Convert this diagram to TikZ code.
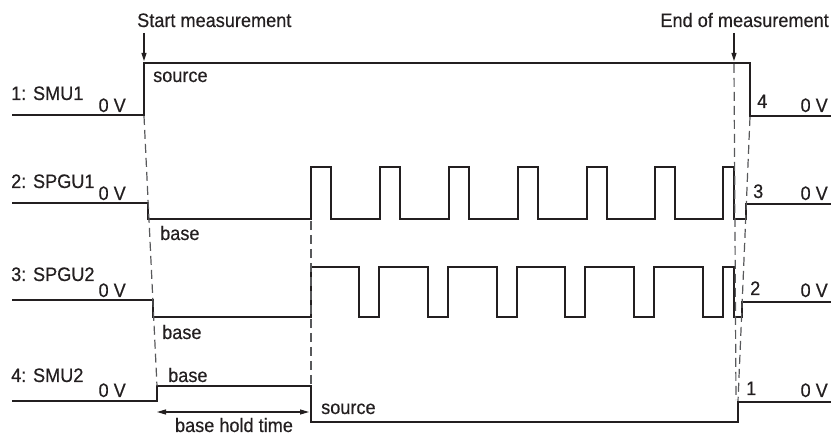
\documentclass[tikz,border=0pt]{standalone}
\usepackage{fontspec}
\setmainfont{Liberation Sans}[FakeBold=0.35,FakeStretch=0.93]
\usetikzlibrary{arrows.meta}
\definecolor{ink}{HTML}{231F20}
\definecolor{dashgray}{HTML}{58595B}
\begin{document}
\begin{tikzpicture}[x=1pt,y=-1pt,
  wave/.style={draw=ink,line width=1.8pt,line join=miter},
  guide/.style={draw=dashgray,line width=1.2pt,dash pattern=on 9pt off 5pt},
  lbl/.style={inner sep=0pt,text=ink,font=\fontsize{19.5}{21}\selectfont},
  marker/.style={draw=ink,line width=1.1pt,-{Triangle[length=8pt,width=5pt]}},
  span/.style={draw=ink,line width=1.1pt,{Triangle[length=9pt,width=5pt]}-{Triangle[length=9pt,width=5pt]}}]
\useasboundingbox (0,0) rectangle (836,435);
\fill[white] (0,0) rectangle (836,435);

% ---- waveforms ----
% 1: SMU1
\draw[wave] (12,115) -- (144,115) -- (144,63) -- (750,63) -- (750,116) -- (831,116);
% 2: SPGU1
\draw[wave] (12,203) -- (148,203) -- (148,219)
  -- (311,219) -- (311,167) -- (331,167) -- (331,219)
  -- (380,219) -- (380,167) -- (400,167) -- (400,219)
  -- (449,219) -- (449,167) -- (469,167) -- (469,219)
  -- (518,219) -- (518,167) -- (538,167) -- (538,219)
  -- (587,219) -- (587,167) -- (607,167) -- (607,219)
  -- (655,219) -- (655,167) -- (675,167) -- (675,219)
  -- (723,219) -- (723,167) -- (734,167) -- (734,219)
  -- (746,219) -- (746,204) -- (831,204);
% 3: SPGU2
\draw[wave] (12,300) -- (153,300) -- (153,317)
  -- (311,317) -- (311,267) -- (359,267) -- (359,317)
  -- (379,317) -- (379,267) -- (428,267) -- (428,317)
  -- (448,317) -- (448,267) -- (497,267) -- (497,317)
  -- (517,317) -- (517,267) -- (565,267) -- (565,317)
  -- (585,317) -- (585,267) -- (634,267) -- (634,317)
  -- (654,317) -- (654,267) -- (703,267) -- (703,317)
  -- (723,317) -- (723,267) -- (734,267) -- (734,317)
  -- (742,317) -- (742,302) -- (831,302);
% 4: SMU2
\draw[wave] (12,401) -- (157,401) -- (157,386) -- (311,386) -- (311,422)
  -- (738,422) -- (738,402) -- (831,402);

% ---- guide lines ----
\coordinate (s1) at (144,116);
\coordinate (s4) at (157,386);
\coordinate (h1) at (311,221);
\coordinate (h4) at (311,385);
\coordinate (e1) at (734,64);
\coordinate (e4) at (736,400);
\coordinate (f1) at (750,117);
\coordinate (f4) at (738,401);
\draw[guide] (s1) -- (s4);
\draw[guide] (h1) -- (h4);
\draw[guide] (e1) -- (e4);
\draw[guide] (f1) -- (f4);

% ---- markers ----
\node[lbl,anchor=base west] (start) at (137,27) {Start measurement};
\node[lbl,anchor=base east] (end) at (829,27) {End of measurement};
\coordinate (sa) at (144,33);
\coordinate (sb) at (144,61);
\coordinate (ea) at (734,33);
\coordinate (eb) at (734,61);
\draw[marker] (sa) -- (sb);
\draw[marker] (ea) -- (eb);

% ---- channel names ----
\node[lbl,anchor=base west] (n1) at (11,100) {1: SMU1};
\node[lbl,anchor=base west] (n2) at (11,188) {2: SPGU1};
\node[lbl,anchor=base west] (n3) at (11,281) {3: SPGU2};
\node[lbl,anchor=base west] (n4) at (11,382) {4: SMU2};
\node[lbl,anchor=base east] (z1) at (126,112) {0 V};
\node[lbl,anchor=base east] (z2) at (126,200) {0 V};
\node[lbl,anchor=base east] (z3) at (126,297) {0 V};
\node[lbl,anchor=base east] (z4) at (126,397) {0 V};
\node[lbl,anchor=base east] (r1) at (828,112) {0 V};
\node[lbl,anchor=base east] (r2) at (828,200) {0 V};
\node[lbl,anchor=base east] (r3) at (828,297) {0 V};
\node[lbl,anchor=base east] (r4) at (828,397) {0 V};
\node[lbl,anchor=base west] (o4) at (757,108) {4};
\node[lbl,anchor=base west] (o3) at (753,198) {3};
\node[lbl,anchor=base west] (o2) at (750,295) {2};
\node[lbl,anchor=base west] (o1) at (746,395) {1};

% ---- level labels ----
\node[lbl,anchor=base west] (src1) at (153,82) {source};
\node[lbl,anchor=base west] (b2) at (160,240) {base};
\node[lbl,anchor=base west] (b3) at (162,339) {base};
\node[lbl,anchor=base west] (b4) at (168,382) {base};
\node[lbl,anchor=base west] (src4) at (321,414) {source};

% ---- base hold time ----
\coordinate (ha) at (157,412);
\coordinate (hb) at (309,412);
\draw[span] (ha) -- (hb);
\node[lbl,anchor=base] (hold) at (234,432) {base hold time};
\end{tikzpicture}
\end{document}
